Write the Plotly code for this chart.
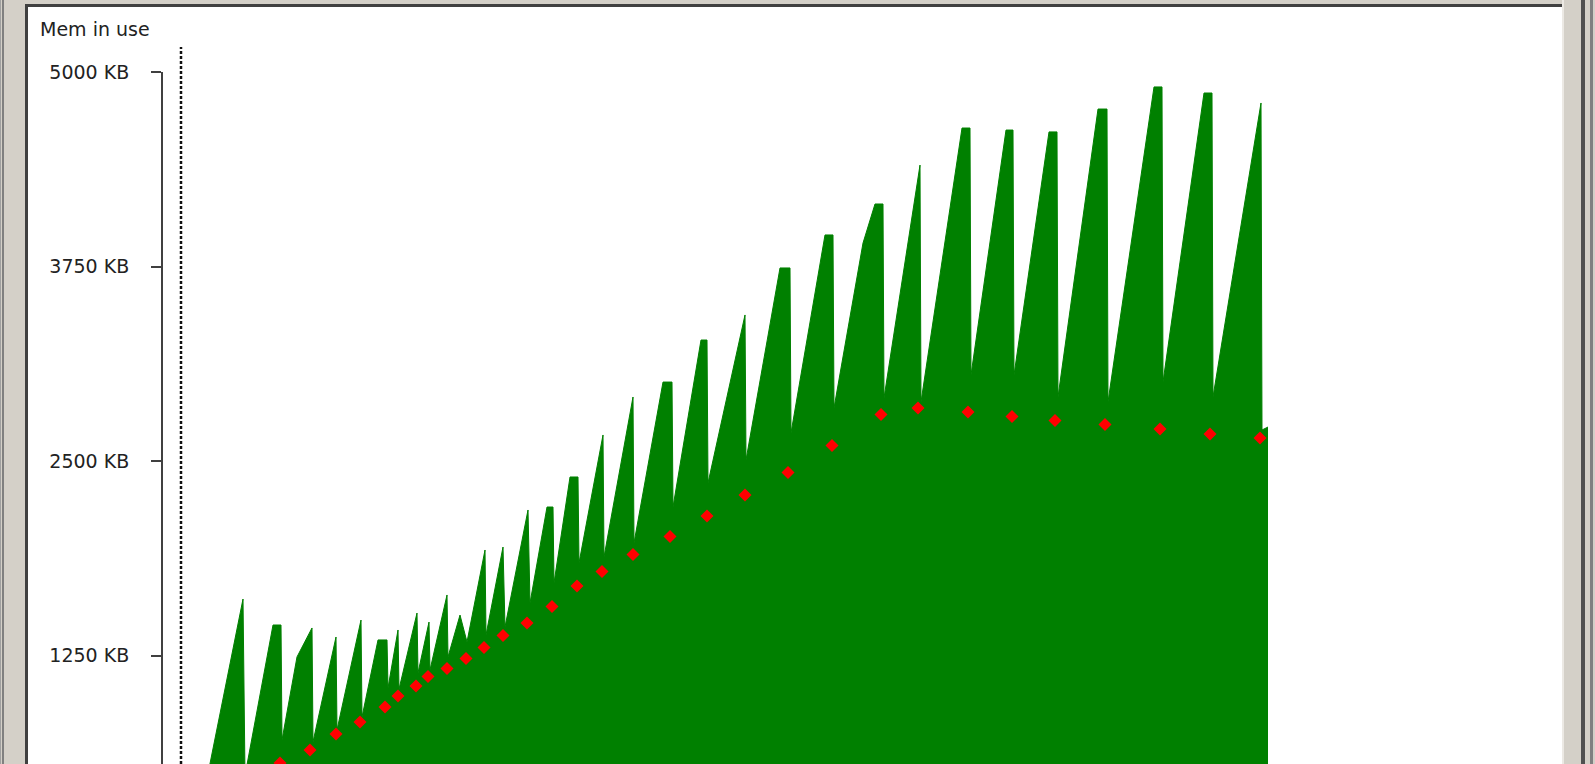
import plotly.graph_objects as go

# ---------------- data ----------------
# sawtooth "memory in use" polyline: time (arbitrary units) and KB
mem_time = [3.9, 8.0, 8.2, 11.0, 11.8, 11.9, 13.4, 14.9, 15.0, 17.3, 17.4, 19.8, 19.9,
            21.5, 22.4, 22.5, 23.5, 23.6, 25.4, 25.5, 26.6, 26.7, 28.4, 28.5, 29.7, 30.4,
            32.2, 32.3, 34.0, 34.2, 36.5, 36.7, 38.4, 39.0, 39.1, 40.7, 41.5, 41.6, 44.0, 44.1,
            47.0, 47.1, 50.0, 50.9, 51.0, 53.8, 54.4, 54.5, 58.2, 58.3, 61.7, 62.7, 62.8,
            66.2, 67.0, 67.1, 70.0, 71.2, 72.0, 72.1, 75.7, 75.8, 79.9, 80.7, 80.8,
            84.3, 85.0, 85.1, 88.6, 89.4, 89.5, 93.5, 94.4, 94.5, 99.1, 99.9, 100.0,
            104.1, 104.9, 105.0, 109.8, 109.9, 110.5]
mem_kb = [300, 1614, 480, 1447, 1447, 708, 1242, 1428, 696, 1370, 773, 1479, 856,
          1351, 1351, 1042, 1415, 1035, 1524, 1139, 1466, 1158, 1640, 1242, 1511, 1338,
          1929, 1383, 1948, 1434, 2186, 1588, 2205, 2205, 1717, 2398, 2398, 1845, 2668, 1884,
          2912, 1974, 3008, 3008, 2205, 3278, 3278, 2359, 3439, 2507, 3741, 3741, 2681,
          3953, 3953, 2841, 3901, 4152, 4152, 2906, 4402, 2880, 4640, 4640, 3053,
          4627, 4627, 3053, 4615, 4615, 2912, 4762, 4762, 2880, 4904, 4904, 3008,
          4865, 4865, 2912, 4801, 2700, 2719]

# red diamond markers (average after each collection)
avg_time = [11.7, 14.7, 17.3, 19.7, 22.2, 23.5, 25.3, 26.5, 28.4, 30.3, 32.1, 34.0, 36.4,
            38.9, 41.4, 43.9, 47.0, 50.7, 54.4, 58.2, 62.5, 66.9, 71.8, 75.5, 80.5, 84.9,
            89.2, 94.2, 99.7, 104.7, 109.7]
avg_kb = [560, 644, 747, 824, 920, 991, 1055, 1116, 1168, 1232, 1303, 1380, 1460,
          1566, 1698, 1791, 1900, 2016, 2147, 2282, 2427, 2600, 2800, 2841, 2816, 2787,
          2761, 2735, 2706, 2674, 2649]

marker_time = 1.8           # dashed vertical marker
y_tickvals = [1250, 2500, 3750, 5000]
y_ticktext = ["1250 KB", "2500 KB", "3750 KB", "5000 KB"]
title_text = "Mem in use"

# ---------------- layout geometry ----------------
FW, FH = 1595, 764
L, R, T, B = 163, 31, 72, 0
W, H = FW - L - R, FH - T - B


def px_x(p):
    return (p - L) / W


def px_y(p):
    return 1 - (p - T) / H


FONT = "DejaVu Sans, Tahoma, sans-serif"

fig = go.Figure()
fig.add_trace(go.Scatter(
    x=mem_time, y=mem_kb, mode="lines", fill="tozeroy",
    line=dict(color="#008000", width=1), fillcolor="#008000",
    hoverinfo="skip", showlegend=False))
fig.add_trace(go.Scatter(
    x=avg_time, y=avg_kb, mode="markers",
    marker=dict(symbol="diamond", size=10, color="#ff0000", line=dict(width=0)),
    showlegend=False))

shapes = []


def rect(x0, y0, x1, y1, color, layer="below"):
    shapes.append(dict(type="rect", xref="paper", yref="paper",
                       x0=px_x(x0), x1=px_x(x1), y0=px_y(y1), y1=px_y(y0),
                       fillcolor=color, line=dict(width=0), layer=layer))


# window frame
rect(27, 6, 1562, 764, "#ffffff")
rect(25, 4, 1562, 7, "#404040")
rect(25, 4, 28, 764, "#404040")
rect(0, 0, 1, 764, "#a0a0a0")
rect(2, 0, 4, 764, "#808080")
rect(1562, 0, 1564, 764, "#ece9e4")
rect(1581, 0, 1585, 764, "#505050")
rect(1590, 0, 1593, 764, "#808080")

shapes.append(dict(type="line", xref="x", yref="paper",
                   x0=marker_time, x1=marker_time, y0=0, y1=px_y(47),
                   line=dict(color="#111111", width=2.5, dash="3px,2px"), layer="above"))

fig.update_layout(
    width=FW, height=FH,
    margin=dict(l=L, r=R, t=T, b=B, pad=0),
    paper_bgcolor="#d4d0c8", plot_bgcolor="#ffffff",
    shapes=shapes,
    title=dict(text=title_text, x=40 / FW, xanchor="left", xref="container",
               y=1 - 29 / FH, yanchor="middle", yref="container",
               font=dict(family=FONT, size=19, color="#222222")),
    xaxis=dict(range=[0, W / 10], visible=False, showgrid=False, zeroline=False),
    yaxis=dict(range=[554, 5000], tickvals=y_tickvals, ticktext=y_ticktext,
               ticks="outside", ticklen=10, tickwidth=2, tickcolor="#404040",
               showline=True, linewidth=2, linecolor="#404040",
               showgrid=False, zeroline=False, ticklabelstandoff=18,
               tickfont=dict(family=FONT, size=19, color="#222222")),
    showlegend=False,
)

fig.write_html(
    "out.html",
    config={"displayModeBar": False},
    post_script="document.body.style.margin='0';document.body.style.overflow='hidden';",
)
